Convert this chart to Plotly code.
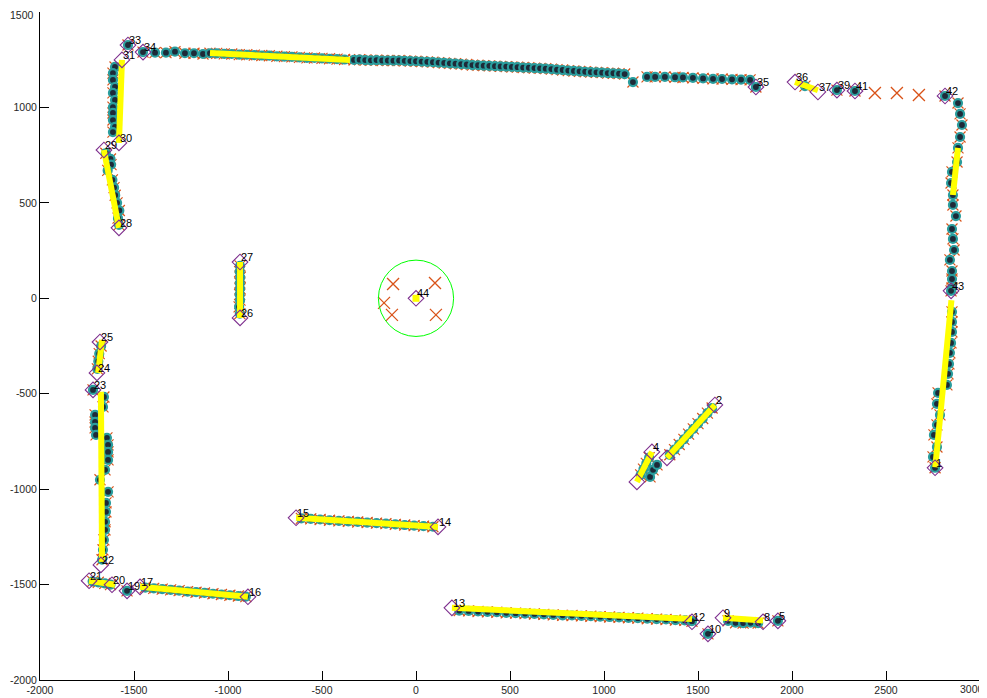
import plotly.graph_objects as go

# ---------------- scan points (data units) ----------------
top_x = [-1532, -1452, -1388, -1330, -1282, -1229, -1181, -1133, -1096,
         -1060, -1020, -980, -940, -900, -860, -820, -780, -740, -700, -660, -620, -580, -540, -500, -460, -420, -380,
         -330, -300, -270, -240, -210, -180, -150, -120, -90, -60, -30, 0, 30, 60, 90, 120, 150, 180, 210, 240,
         270, 300, 330, 360, 390, 420, 450, 480, 510, 540, 570, 600, 630, 660, 690, 720, 750, 780, 810, 840,
         870, 900, 930, 960, 990, 1020, 1050, 1080, 1110,
         1154, 1229, 1272, 1324, 1378, 1420, 1473, 1527, 1580, 1628, 1681, 1729, 1777, 1808,
         2069, 2239, 2335, 2814]
top_y = [1327, 1290, 1287, 1287, 1292, 1284, 1284, 1280, 1284,
         1283, 1281, 1280, 1277, 1276, 1274, 1272, 1271, 1268, 1266, 1265, 1262, 1260, 1259, 1257, 1255, 1253, 1251,
         1249, 1250, 1248, 1247, 1248, 1246, 1246, 1245, 1246, 1244, 1243, 1242, 1240, 1239, 1237, 1235, 1233, 1231,
         1229, 1227, 1225, 1222, 1221, 1219, 1218, 1216, 1215, 1214, 1212, 1211, 1209, 1208, 1206, 1205, 1203, 1201,
         1198, 1196, 1193, 1191, 1189, 1187, 1185, 1184, 1182, 1180, 1179, 1177, 1175,
         1133, 1160, 1160, 1160, 1158, 1157, 1155, 1152, 1150, 1149, 1147, 1146, 1144, 1107,
         1112, 1091, 1086, 1060]

right_x = [2883, 2894, 2904, 2894, 2883, 2878, 2851, 2846, 2856, 2856, 2872, 2851, 2856, 2862, 2840, 2851, 2851, 2851,
           2846, 2851, 2851, 2851, 2846, 2840, 2835, 2830, 2824, 2777, 2771, 2787, 2771, 2755, 2771, 2750, 2761]
right_y = [1023, 966, 908, 845, 788, 714, 662, 604, 541, 489, 431, 363, 311, 253, 201, 143, 101, 54,
           39, -71, -124, -176, -234, -286, -344, -396, -454, -496, -553, -611, -663, -716, -779, -831, -888]

mid_x = [1575, 1550, 1525, 1500, 1475, 1450, 1425, 1400, 1375, 1350, 1240, 1225, 1210, 1195, 1245, 1261, 1282]
mid_y = [-575, -602, -630, -657, -684, -712, -739, -766, -793, -820, -835, -865, -895, -925, -936, -899, -873]

bottom_x = [230, 280, 330, 380, 430, 480, 530, 580, 630, 680, 730, 780, 830, 880, 930, 980, 1030, 1080, 1130,
            1180, 1230, 1280, 1330, 1380, 1430, 1468, 1553, 1660, 1700, 1740, 1780, 1820, 1925,
            -610, -560, -510, -460, -410, -360, -310, -260, -210, -160, -110, -60, -10, 40, 90]
bottom_y = [-1636, -1638, -1641, -1643, -1645, -1648, -1650, -1652, -1654, -1656, -1659, -1661, -1662, -1664, -1666,
            -1668, -1670, -1672, -1674, -1676, -1679, -1681, -1683, -1686, -1688, -1692, -1758, -1690, -1700, -1702,
            -1700, -1702, -1690,
            -1153, -1156, -1159, -1163, -1166, -1169, -1172, -1175, -1178, -1181, -1185, -1188, -1191, -1194, -1197]

left_x = [-1720, -1690, -1655, -1625, -1537,
          -1440, -1395, -1350, -1305, -1260, -1215, -1170, -1125, -1080, -1035, -990, -945, -905,
          -1675, -1685, -1690, -1695, -1718,
          -1660, -1665, -1707, -1707, -1707, -1702, -1644, -1638, -1638, -1638, -1654, -1681, -1638, -1649, -1649,
          -1654, -1654, -1660, -1665, -1670,
          -936, -938, -935, -937, -936, -938, -936, -941, -937,
          -1650, -1625, -1622, -1640, -1615, -1606, -1600, -1590, -1578, -1585, -1580,
          -1601, -1612, -1612, -1601, -1612, -1601, -1612, -1612, -1612, -1601, -1612]
left_y = [-1483, -1488, -1494, -1500, -1533,
          -1516, -1520, -1524, -1528, -1532, -1537, -1540, -1544, -1548, -1552, -1556, -1560, -1563,
          -250, -290, -330, -370, -480,
          -517, -569, -611, -648, -679, -716, -731, -768, -805, -847, -899, -951, -1014, -1072, -1119,
          -1171, -1213, -1266, -1318, -1370,
          170, 140, 110, 80, 50, 20, -10, -45, -80,
          760, 730, 700, 670, 620, 580, 540, 500, 460, 420, 385,
          1212, 1180, 1144, 1107, 1076, 1039, 1002, 971, 934, 898, 871]

# ---------------- corner points and labels ----------------
corner_x = [2761, 1590, 1335, 1255, 1175, 1925, 1846, 1633, 1553, 1468, 191, 117, -638, -894, -1468, -1537,
            -1617, -1739, -1676, -1718, -1697, -1681, -936, -936, -1580, -1660, -1580, -1564, -1532, -1452,
            1808, 2016, 2138, 2239, 2335, 2814, 2846, 0]
corner_y = [-888, -559, -836, -805, -962, -1690, -1695, -1674, -1758, -1695, -1622, -1198, -1150, -1564, -1512, -1533,
            -1501, -1480, -1397, -480, -391, -229, -103, 190, 369, 777, 814, 1249, 1327, 1290,
            1107, 1133, 1081, 1091, 1086, 1060, 39, 0]
corner_lbl = ["1", "2", "", "4", "", "5", "8", "9", "10", "12", "13", "14", "15", "16", "17", "19",
              "20", "21", "22", "23", "24", "25", "26", "27", "28", "29", "30", "31", "33", "34",
              "35", "36", "37", "39", "41", "42", "43", "44"]

# ---------------- fitted line segments ----------------
seg_x0 = [-1096, 2883, 2848, 1590, 1255, 191, 1633, -638, -1468, -1739, -1676, -1670, -936, -1660, -1564, 2016]
seg_y0 = [1285, 788, -10, -559, -805, -1622, -1674, -1150, -1512, -1480, -490, -218, 190, 777, 1249, 1133]
seg_x1 = [-351, 2856, 2762, 1335, 1175, 1468, 1846, 117, -894, -1601, -1670, -1691, -936, -1580, -1580, 2138]
seg_y1 = [1249, 541, -885, -836, -962, -1680, -1688, -1198, -1564, -1501, -1381, -391, -103, 369, 814, 1090]

# ---------------- landmarks (big crosses) and robot ----------------
cross_x = [-122, 101, -170, -128, 106, 2441, 2558, 2675]
cross_y = [75, 80, -24, -87, -87, 1076, 1076, 1065]
robot_x, robot_y, robot_r = 0, 0, 200

# ---------------- axis ticks ----------------
x_ticks = [-2000, -1500, -1000, -500, 0, 500, 1000, 1500, 2000, 2500, 3000]
x_tick_text = ["-2000", "-1500", "-1000", "-500", "0", "500", "1000", "1500", "2000", "2500", ""]
y_ticks = [-2000, -1500, -1000, -500, 0, 500, 1000, 1500]
y_tick_text = ["-2000", "-1500", "-1000", "-500", "0", "500", "1000", ""]

ORANGE = "#D95319"
TEAL = "#2a9d9d"
DARK = "#1e2a38"
PURPLE = "#7E2F8E"
TICK_COLOR = "#262626"

all_x = top_x + right_x + mid_x + bottom_x + left_x
all_y = top_y + right_y + mid_y + bottom_y + left_y

fig = go.Figure()
fig.add_trace(go.Scatter(x=all_x, y=all_y, mode="markers",
                         marker=dict(symbol="x-thin-open", size=11, color=ORANGE, line=dict(color=ORANGE, width=1.2)),
                         hoverinfo="skip"))
fig.add_trace(go.Scatter(x=all_x, y=all_y, mode="markers",
                         marker=dict(symbol="circle", size=8, color=DARK, line=dict(color=TEAL, width=2.2)),
                         hoverinfo="skip"))

sx, sy = [], []
for a, b, c, d in zip(seg_x0, seg_y0, seg_x1, seg_y1):
    sx += [a, c, None]
    sy += [b, d, None]
fig.add_trace(go.Scatter(x=sx, y=sy, mode="lines", line=dict(color="#FFFF00", width=6), hoverinfo="skip"))
fig.add_trace(go.Scatter(x=[robot_x], y=[robot_y], mode="markers",
                         marker=dict(symbol="square", size=7, color="#FFFF00"), hoverinfo="skip"))

fig.add_trace(go.Scatter(x=corner_x, y=corner_y, mode="markers",
                         marker=dict(symbol="diamond-open", size=12, color=PURPLE, line=dict(color=PURPLE, width=1.1)),
                         hoverinfo="skip"))
fig.add_trace(go.Scatter(x=cross_x, y=cross_y, mode="markers",
                         marker=dict(symbol="x-thin-open", size=12, color=ORANGE, line=dict(color=ORANGE, width=1.3)),
                         hoverinfo="skip"))

for x, y, t in zip(corner_x, corner_y, corner_lbl):
    if t:
        fig.add_annotation(x=x, y=y, text=t, showarrow=False, xanchor="left", yanchor="bottom",
                           xshift=-1, yshift=-3, font=dict(size=11, color="black"))

# end tick labels, kept inside the window
fig.add_annotation(x=x_ticks[-1], xref="x", y=0, yref="paper", text=str(x_ticks[-1]), showarrow=False,
                   xanchor="right", yanchor="top", xshift=6, yshift=-1,
                   font=dict(size=10.5, color=TICK_COLOR))
fig.add_annotation(x=0, xref="paper", y=y_ticks[-1], yref="y", text=str(y_ticks[-1]), showarrow=False,
                   xanchor="right", yanchor="top", xshift=-4, yshift=5,
                   font=dict(size=10.5, color=TICK_COLOR))

fig.add_shape(type="circle", xref="x", yref="y",
              x0=robot_x - robot_r, x1=robot_x + robot_r, y0=robot_y - robot_r, y1=robot_y + robot_r,
              line=dict(color="#00FF00", width=1))

axis_common = dict(showline=True, linecolor="black", linewidth=1, ticks="inside", ticklen=9,
                   tickcolor="black", showgrid=False, zeroline=False, mirror=False, automargin=False,
                   ticklabeloverflow="allow",
                   tickfont=dict(size=10.5, color=TICK_COLOR))
# the page body adds an 8px offset, so the figure is sized to fit inside the window
fig.update_layout(
    width=979, height=690,
    margin=dict(l=32, r=7, t=4, b=18),
    plot_bgcolor="white", paper_bgcolor="white",
    showlegend=False,
    font=dict(family="Liberation Sans, Arial, sans-serif"),
    xaxis=dict(range=[-2000, 3000], tickvals=x_ticks, ticktext=x_tick_text, **axis_common),
    yaxis=dict(range=[-2000, 1500], tickvals=y_ticks, ticktext=y_tick_text, **axis_common),
)
fig.write_html("out.html")
